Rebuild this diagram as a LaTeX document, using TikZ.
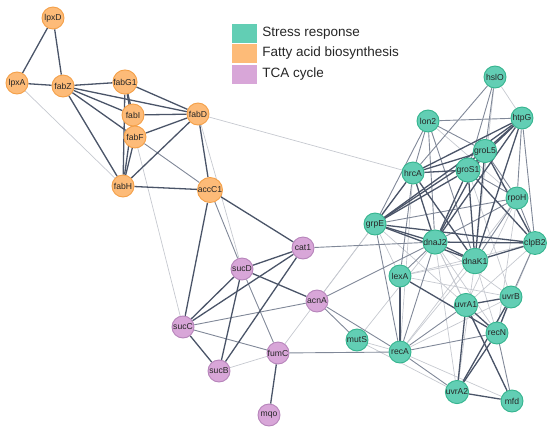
\documentclass[tikz,border=0pt]{standalone}
\usepackage{fontspec}
\setmainfont{Liberation Sans}
\usetikzlibrary{positioning, backgrounds}

\definecolor{stressfill}{RGB}{98,206,180}
\definecolor{stressdraw}{RGB}{52,180,142}
\definecolor{fattyfill}{RGB}{253,187,120}
\definecolor{fattydraw}{RGB}{244,160,72}
\definecolor{tcafill}{RGB}{216,166,216}
\definecolor{tcadraw}{RGB}{182,132,186}
\definecolor{edgedark}{RGB}{74,84,104}
\definecolor{edgemid}{RGB}{128,136,152}
\definecolor{edgelight}{RGB}{198,201,208}

\begin{document}
\begin{tikzpicture}[x=1pt,y=-1pt,
  gene node/.style={circle,draw,line width=0.9pt,minimum size=22pt,inner sep=0pt,
    font=\fontsize{8.6}{9}\selectfont,text=black!85},
  stress node/.style={gene node,fill=stressfill,draw=stressdraw},
  fatty node/.style={gene node,fill=fattyfill,draw=fattydraw},
  tca node/.style={gene node,fill=tcafill,draw=tcadraw},
  key box/.style={minimum width=25pt,minimum height=19pt,inner sep=0pt},
  key text/.style={font=\fontsize{13.5}{15}\selectfont,text=black!85,inner sep=0pt},
  strong/.style={draw=edgedark,line width=1.3pt},
  medium/.style={draw=edgemid,line width=0.9pt},
  weak/.style={draw=edgelight,line width=0.7pt}]
  \useasboundingbox (0,0) rectangle (550,432);

  % legend
  \node[key box, fill=stressfill] (keystress) at (244.5,33.5) {};
  \node[key box, fill=fattyfill] (keyfatty) at (244.5,53.5) {};
  \node[key box, fill=tcafill] (keytca) at (244.5,74) {};
  \node[key text, right=5pt of keystress] {Stress response};
  \node[key text, right=5pt of keyfatty] {Fatty acid biosynthesis};
  \node[key text, right=5pt of keytca] {TCA cycle};

  % fatty acid biosynthesis
  \node[fatty node] (lpxD) at (53,18) {lpxD};
  \node[fatty node] (lpxA) at (17,83) {lpxA};
  \node[fatty node] (fabZ) at (63,86) {fabZ};
  \node[fatty node] (fabG1) at (125,82) {fabG1};
  \node[fatty node] (fabI) at (133,115) {fabI};
  \node[fatty node] (fabF) at (135,137) {fabF};
  \node[fatty node] (fabD) at (198,114) {fabD};
  \node[fatty node] (fabH) at (123,186) {fabH};
  \node[fatty node] (accC1) at (210,190) {accC1};

  % TCA cycle
  \node[tca node] (cat1) at (303,248) {cat1};
  \node[tca node] (sucD) at (242,269) {sucD};
  \node[tca node] (acnA) at (317,301) {acnA};
  \node[tca node] (sucC) at (183,327) {sucC};
  \node[tca node] (fumC) at (278,353) {fumC};
  \node[tca node] (sucB) at (219,371) {sucB};
  \node[tca node] (mqo) at (269,415) {mqo};

  % stress response
  \node[stress node] (hslO) at (495,77) {hslO};
  \node[stress node] (htpG) at (522,118) {htpG};
  \node[stress node] (lon2) at (428,121) {lon2};
  \node[stress node] (groL5) at (485,151) {groL5};
  \node[stress node] (groS1) at (468,170) {groS1};
  \node[stress node] (hrcA) at (413,173) {hrcA};
  \node[stress node] (rpoH) at (517,198) {rpoH};
  \node[stress node] (grpE) at (375,224) {grpE};
  \node[stress node] (dnaJ2) at (435,242) {dnaJ2};
  \node[stress node] (clpB2) at (535,243) {clpB2};
  \node[stress node] (dnaK1) at (475,261) {dnaK1};
  \node[stress node] (lexA) at (400,276) {lexA};
  \node[stress node] (uvrA1) at (466,305) {uvrA1};
  \node[stress node] (uvrB) at (511,297) {uvrB};
  \node[stress node] (recN) at (497,333) {recN};
  \node[stress node] (mutS) at (357,340) {mutS};
  \node[stress node] (recA) at (400,352) {recA};
  \node[stress node] (uvrA2) at (457,392) {uvrA2};
  \node[stress node] (mfd) at (512,401) {mfd};

  \begin{pgfonlayer}{background}
  \path[weak]
    (lpxA) edge (fabH)
    (fabF) edge (sucC)
    (fabD) edge (sucD)
           edge (hrcA)
    (acnA) edge (grpE)
           edge (hrcA)
    (mutS) edge (dnaJ2)
           edge (recA)
           edge (uvrA2)
    (hslO) edge (htpG)
           edge (dnaK1)
    (lon2) edge (rpoH)
    (fumC) edge (acnA)
    (sucB) edge (fumC)
    (recA) edge (mfd)
           edge (uvrB)
    (dnaJ2) edge (uvrA1)
            edge (recN)
            edge (uvrA2)
            edge (mfd)
            edge (uvrB)
    (dnaK1) edge (recN)
            edge (uvrA2)
            edge (recA)
    (rpoH) edge (uvrA1)
           edge (recN)
           edge (recA)
    (clpB2) edge (recN)
            edge (uvrA1)
            edge (lexA)
    (grpE) edge (lexA)
           edge (uvrA1)
    (groS1) edge (uvrB)
    (lexA) edge (uvrB)
           edge (dnaK1)
    (hrcA) edge (recA);
  \path[medium]
    (fabF) edge (accC1)
    (accC1) edge (sucD)
    (cat1) edge (dnaJ2)
    (sucD) edge (fumC)
    (sucC) edge (acnA)
           edge (fumC)
    (fumC) edge (recA)
    (acnA) edge (dnaJ2)
           edge (mutS)
           edge (recA)
    (hslO) edge (hrcA)
           edge (groS1)
           edge (groL5)
    (lon2) edge (htpG)
           edge (hrcA)
           edge (groL5)
           edge (dnaJ2)
           edge (dnaK1)
           edge (grpE)
    (htpG) edge (clpB2)
           edge (rpoH)
    (rpoH) edge (groL5)
           edge (groS1)
           edge (dnaJ2)
           edge (dnaK1)
           edge (clpB2)
           edge (grpE)
    (hrcA) edge (lexA)
    (grpE) edge (recA)
    (dnaJ2) edge (lexA)
            edge (recA)
    (clpB2) edge (uvrB)
    (recA) edge (uvrA1)
           edge (recN)
           edge (uvrA2)
    (recN) edge (mfd);
  \path[strong]
    (lpxD) edge (lpxA)
           edge (fabZ)
    (lpxA) edge (fabZ)
    (fabZ) edge (fabG1)
           edge (fabI)
           edge (fabF)
           edge (fabD)
           edge (fabH)
    (fabG1) edge (fabI)
            edge (fabF)
            edge (fabH)
            edge (fabD)
    (fabI) edge (fabD)
           edge (fabH)
    (fabF) edge (fabD)
           edge (fabH)
    (fabD) edge (fabH)
           edge (accC1)
    (fabH) edge (accC1)
    (accC1) edge (sucC)
            edge (cat1)
    (cat1) edge (sucD)
           edge (sucC)
           edge (sucB)
    (sucD) edge (sucC)
           edge (sucB)
           edge (acnA)
    (sucC) edge (sucB)
    (fumC) edge (mqo)
    (htpG) edge (groL5)
           edge (groS1)
           edge (hrcA)
           edge (grpE)
           edge (dnaJ2)
           edge (dnaK1)
    (groL5) edge (groS1)
            edge (hrcA)
            edge (grpE)
            edge (dnaJ2)
            edge (dnaK1)
            edge (clpB2)
    (groS1) edge (hrcA)
            edge (grpE)
            edge (dnaJ2)
            edge (dnaK1)
            edge (clpB2)
    (hrcA) edge (grpE)
           edge (dnaJ2)
           edge (dnaK1)
    (grpE) edge (dnaJ2)
           edge (dnaK1)
           edge (clpB2)
    (dnaJ2) edge (dnaK1)
            edge (clpB2)
    (dnaK1) edge (clpB2)
    (lexA) edge (recA)
           edge (recN)
    (uvrA1) edge (uvrB)
            edge (recN)
            edge (uvrA2)
            edge (mfd)
    (uvrB) edge (recN)
           edge (uvrA2)
    (recN) edge (uvrA2)
    (uvrA2) edge (mfd);
  \end{pgfonlayer}
\end{tikzpicture}
\end{document}
